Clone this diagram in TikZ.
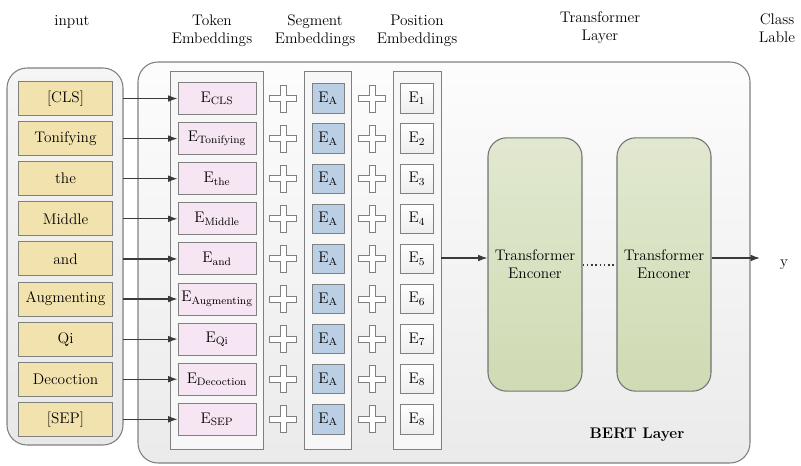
\documentclass[tikz,border=0pt]{standalone}
\usepackage{fontspec}
\usetikzlibrary{arrows.meta}
\definecolor{edge}{HTML}{808080}
\definecolor{arr}{HTML}{3A3A3A}
\definecolor{tanfill}{HTML}{F2E3AE}
\definecolor{pinkfill}{HTML}{F6E5F2}
\definecolor{bluefill}{HTML}{BACFE3}
\definecolor{greentop}{HTML}{E1E8D0}
\definecolor{greenbot}{HTML}{CFDBB3}
\tikzset{
  x=0.75pt, y=-0.75pt,
  every node/.style={font=\rmfamily\fontsize{11.5}{13.5}\selectfont, inner sep=0pt},
  container/.style={draw=edge, line width=0.8pt, rounded corners=15pt},
  colbox/.style={draw=edge, line width=0.65pt, fill=white!97!black},
  inbox/.style={draw=edge, line width=0.7pt, fill=tanfill, minimum width=70pt, minimum height=25.5pt},
  tokbox/.style={draw=edge, line width=0.7pt, fill=pinkfill, minimum width=58.5pt, minimum height=24pt},
  segbox/.style={draw=edge, line width=0.7pt, fill=bluefill, minimum width=24pt, minimum height=22pt},
  posbox/.style={draw=edge, line width=0.7pt, top color=white, bottom color=white!93!black, minimum width=25pt, minimum height=22pt},
  encbox/.style={draw=edge!90!black, line width=0.8pt, top color=greentop, bottom color=greenbot, rounded corners=14pt, minimum width=70.5pt, minimum height=190pt, align=center},
  conn/.style={draw=arr, line width=0.9pt, -{Latex[length=7pt,width=5pt]}},
  header/.style={align=center},
  crossmark/.pic={
    \draw[draw=edge, line width=0.7pt, fill=white]
      (-3,-13.5) -- (3,-13.5) -- (3,-3) -- (13.5,-3) -- (13.5,3) -- (3,3)
      -- (3,13.5) -- (-3,13.5) -- (-3,3) -- (-13.5,3) -- (-13.5,-3) -- (-3,-3) -- cycle;
  }
}
\begin{document}
\begin{tikzpicture}
\useasboundingbox (0,0) rectangle (801,465);
% headers
\node[header] (hin) at (72,22) {input};
\node[header] (htok) at (212,31) {Token\\Embeddings};
\node[header] (hseg) at (315,31) {Segment\\Embeddings};
\node[header] (hpos) at (417,31) {Position\\Embeddings};
\node[header] (htr) at (600,28) {Transformer\\Layer};
\node[header] (hcl) at (777,28) {Class\\Lable};
% containers
\draw[container, top color=white!96!black, bottom color=white!91!black] (7,68) rectangle (123,445);
\draw[container, top color=white!99!black, bottom color=white!92!black] (138,62) rectangle (750,463);
\draw[colbox] (170,71) rectangle (263,449);
\draw[colbox] (304,71) rectangle (351,449);
\draw[colbox] (393,71) rectangle (441,449);
% rows
\foreach \i/\w/\s/\p in {0/[CLS]/CLS/1, 1/Tonifying/Tonifying/2, 2/the/the/3, 3/Middle/Middle/4, 4/and/and/5, 5/Augmenting/Augmenting/6, 6/Qi/Qi/7, 7/Decoction/Decoction/8, 8/[SEP]/SEP/8}{
  \pgfmathsetmacro{\yy}{98.5+40.1*\i}
  \node[inbox] (in\i) at (65.5,\yy) {\w};
  \node[tokbox] (tok\i) at (217,\yy) {E\textsubscript{\s}};
  \node[segbox] (seg\i) at (328,\yy) {E\textsubscript{A}};
  \node[posbox] (pos\i) at (417,\yy) {E\textsubscript{\p}};
  \pic at (283,\yy) {crossmark};
  \pic at (372,\yy) {crossmark};
  \coordinate (src\i) at (123,\yy);
  \draw[conn] (src\i) -- (tok\i.west);
}
% transformer encoders
\node[encbox] (enc1) at (535,264.5) {Transformer\\Enconer};
\node[encbox] (enc2) at (664,264.5) {Transformer\\Enconer};
\coordinate (poso) at (441,258);
\draw[conn] (poso) -- (enc1.west |- poso);
\draw[draw=arr, line width=1.2pt, dotted] (enc1.east |- 0,265) -- (enc2.west |- 0,265);
\node (yout) at (784,265) {y};
\coordinate (yin) at (760,258);
\draw[conn] (enc2.east |- yin) -- (yin);
\node[font=\rmfamily\fontsize{11.5}{13.5}\selectfont\bfseries] (bert) at (637,435) {BERT Layer};
\end{tikzpicture}
\end{document}
